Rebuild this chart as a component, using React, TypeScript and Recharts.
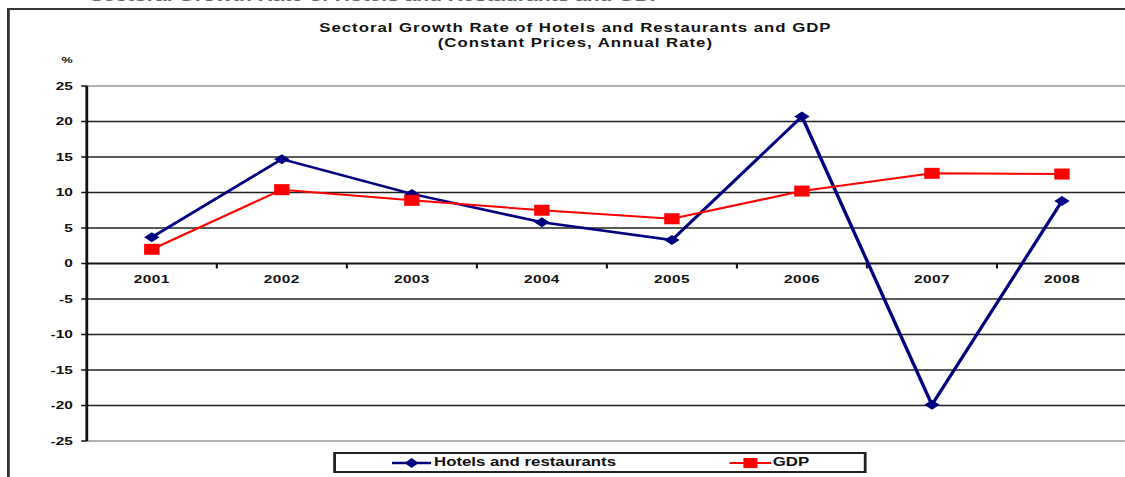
import { LineChart, Line, XAxis, YAxis, CartesianGrid, ReferenceLine } from 'recharts'

const years = ['2001', '2002', '2003', '2004', '2005', '2006', '2007', '2008']
const hotels = [3.7, 14.7, 9.8, 5.8, 3.3, 20.7, -19.9, 8.8]
const gdp = [2.0, 10.4, 8.9, 7.5, 6.3, 10.2, 12.7, 12.6]
const yTicks = [25, 20, 15, 10, 5, 0, -5, -10, -15, -20, -25]
const gridValues = [20, 15, 10, 5, -5, -10, -15, -20]

const seriesNames = { hotels: 'Hotels and restaurants', gdp: 'GDP' }
const NAVY = '#000080'
const RED = '#ff0000'
const FONT = '"Liberation Sans", Arial, sans-serif'

// the original is horizontally stretched, so draw narrow and scale in x
const S = 1.4
const W = 814
const H = 477
const M_TOP = 86
const M_BOTTOM = 6
const X_AXIS_H = 30
const M_RIGHT = 9
const Y_AXIS_W = 62
const Y_MIN = -25
const Y_MAX = 25
const PLOT_H = H - M_TOP - M_BOTTOM - X_AXIS_H
const PLOT_W = W - Y_AXIS_W - M_RIGHT

const data = years.map((year, i) => ({ year, hotels: hotels[i], gdp: gdp[i] }))

const zeroY = M_TOP + (PLOT_H * (Y_MAX - 0)) / (Y_MAX - Y_MIN)
const band = PLOT_W / years.length

function XTick(props: any) {
  const { x, payload } = props
  return (
    <g>
      <line x1={x - band / 2} x2={x - band / 2} y1={zeroY} y2={zeroY + 5} stroke="#111" strokeWidth={1.5} />
      <text x={x} y={zeroY + 20} textAnchor="middle" fontSize={11} fontWeight="bold" fill="#111" fontFamily={FONT} style={{ letterSpacing: 0.3 }}>
        {payload.value}
      </text>
    </g>
  )
}

function Diamond(props: any) {
  const { cx, cy, index } = props
  if (cx == null || cy == null) return null
  return <path key={index} d={`M${cx},${cy - 5} L${cx + 5.5},${cy} L${cx},${cy + 5} L${cx - 5.5},${cy} Z`} fill={NAVY} />
}

function Square(props: any) {
  const { cx, cy, index } = props
  if (cx == null || cy == null) return null
  return <rect key={index} x={cx - 5.5} y={cy - 5.5} width={11} height={11} fill={RED} />
}

export default function App() {
  return (
    <div style={{ position: 'absolute', left: 0, top: 0, width: 1125, height: 477, overflow: 'hidden', background: '#fff' }}>
      <div style={{ position: 'absolute', left: 0, top: 0, width: W, height: H, transform: `scaleX(${S})`, transformOrigin: '0 0', fontFamily: FONT }}>
        <div style={{ position: 'absolute', left: 64, top: -13, fontSize: 15, fontWeight: 'bold', color: '#666', whiteSpace: 'nowrap' }}>
          Sectoral Growth Rate of Hotels and Restaurants and GDP
        </div>
        <div style={{ position: 'absolute', left: 5, top: 8, width: 900, height: 600, border: '2px solid #333' }} />
        <div style={{ position: 'absolute', left: 161, top: 21, width: 500, textAlign: 'center', fontSize: 12, fontWeight: 'bold', lineHeight: '15px', letterSpacing: 0.7, color: '#111' }}>
          Sectoral Growth Rate of Hotels and Restaurants and GDP
          <br />
          (Constant Prices, Annual Rate)
        </div>
        <div style={{ position: 'absolute', left: 44, top: 55, fontSize: 9, fontWeight: 'bold', color: '#111' }}>%</div>

        <div style={{ position: 'absolute', left: 0, top: 0 }}>
          <LineChart width={W} height={H} data={data} margin={{ top: M_TOP, bottom: M_BOTTOM, left: 0, right: M_RIGHT }}>
            <CartesianGrid vertical={false} horizontalValues={gridValues} stroke="#222" strokeWidth={1.5} />
            <ReferenceLine y={25} stroke="#999" strokeWidth={1.5} />
            <ReferenceLine y={-25} stroke="#999" strokeWidth={1.5} />
            <ReferenceLine y={0} stroke="#111" strokeWidth={2} />
            <XAxis
              dataKey="year"
              height={X_AXIS_H}
              axisLine={false}
              tickLine={false}
              tick={<XTick />}
              interval={0}
              padding={{ left: band / 2, right: band / 2 }}
            />
            <YAxis
              width={Y_AXIS_W}
              domain={[Y_MIN, Y_MAX]}
              ticks={yTicks}
              interval={0}
              axisLine={{ stroke: '#111', strokeWidth: 2 }}
              tickLine={{ stroke: '#111', strokeWidth: 1.5 }}
              tickSize={4}
              tickMargin={6}
              tick={{ fontSize: 11, fontWeight: 'bold', fill: '#111', fontFamily: FONT }}
            />
            <Line dataKey="hotels" name={seriesNames.hotels} stroke={NAVY} strokeWidth={2.5} dot={<Diamond />} isAnimationActive={false} />
            <Line dataKey="gdp" name={seriesNames.gdp} stroke={RED} strokeWidth={2} dot={<Square />} isAnimationActive={false} />
          </LineChart>
        </div>

        <div style={{ position: 'absolute', left: 238, top: 452, width: 381, height: 21, boxSizing: 'border-box', border: '2px solid #222', fontSize: 12, fontWeight: 'bold', color: '#111' }}>
          <svg style={{ position: 'absolute', left: 40, top: 3 }} width={28} height={12}>
            <line x1={0} x2={28} y1={6} y2={6} stroke={NAVY} strokeWidth={2.5} />
            <path d="M14,1 L19,6 L14,11 L9,6 Z" fill={NAVY} />
          </svg>
          <span style={{ position: 'absolute', left: 70, top: 1, whiteSpace: 'nowrap' }}>{seriesNames.hotels}</span>
          <svg style={{ position: 'absolute', left: 281, top: 3 }} width={30} height={12}>
            <line x1={0} x2={30} y1={6} y2={6} stroke={RED} strokeWidth={2} />
            <rect x={10} y={1} width={10} height={10} fill={RED} />
          </svg>
          <span style={{ position: 'absolute', left: 312, top: 1, whiteSpace: 'nowrap' }}>{seriesNames.gdp}</span>
        </div>
      </div>
    </div>
  )
}
